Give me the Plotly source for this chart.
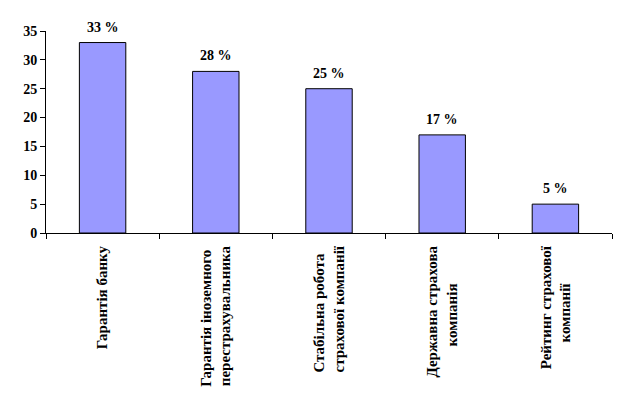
import plotly.graph_objects as go

NB = "\u00a0"
categories = [
    "Гарантія банку",
    "Гарантія іноземного" + NB + "<br>перестрахувальника",
    "Стабільна робота" + NB * 2 + "<br>страхової компанії",
    "Державна страхова<br>компанія" + NB * 10,
    "Рейтинг страхової<br>компанії" + NB * 10,
]
values = [33, 28, 25, 17, 5]
labels = [f"{v} %" for v in values]

font_family = "Liberation Serif"

fig = go.Figure(go.Bar(
    x=categories,
    y=values,
    marker=dict(color="#9999FF", line=dict(color="black", width=1)),
    width=0.41,
    hoverinfo="y",
))

for c, v, t in zip(categories, values, labels):
    fig.add_annotation(
        x=c, y=v, text=t, showarrow=False,
        xanchor="center", yanchor="bottom", yshift=6,
        font=dict(family=font_family, size=14, color="black", weight="bold"),
    )

fig.update_layout(
    width=629, height=407,
    margin=dict(l=46, r=17, t=31, b=174),
    paper_bgcolor="white", plot_bgcolor="white",
    showlegend=False,
    font=dict(family=font_family, color="black"),
)
fig.update_yaxes(
    range=[0, 35], dtick=5, showgrid=False, zeroline=False,
    showline=True, linecolor="black", linewidth=1,
    ticks="outside", ticklen=5, tickcolor="black",
    tickfont=dict(family=font_family, size=14, color="black", weight="bold"),
)
fig.update_xaxes(
    showgrid=False, showline=True, linecolor="black", linewidth=1,
    tickangle=-90, ticks="outside", ticklen=5, tickcolor="black",
    tickson="boundaries", ticklabelstandoff=6,
    tickfont=dict(family=font_family, size=15, color="black", weight="bold"),
)

fig.write_html(
    "out.html",
    config={"displayModeBar": False},
    post_script="document.body.style.margin='0';document.body.style.padding='0';",
)
